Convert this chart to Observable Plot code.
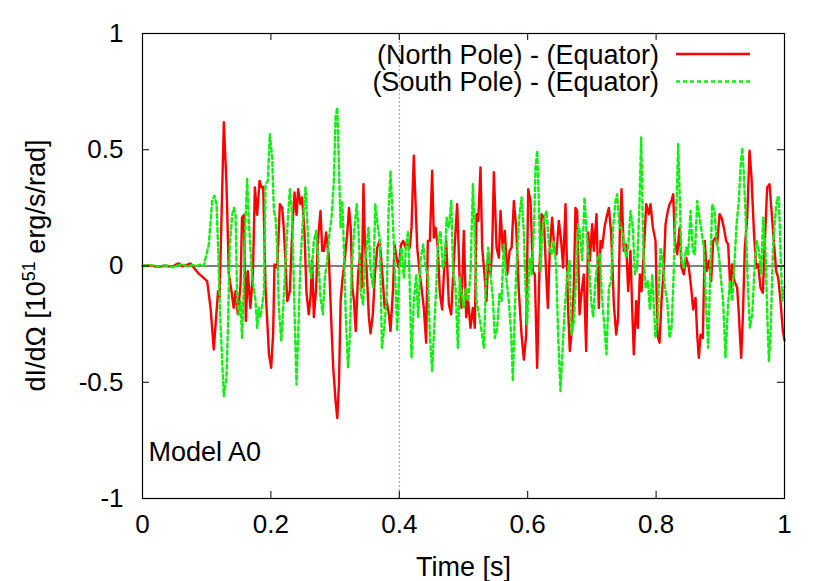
<!DOCTYPE html>
<html>
<head>
<meta charset="utf-8">
<script src="https://cdn.jsdelivr.net/npm/d3@7"></script>
<script src="https://cdn.jsdelivr.net/npm/@observablehq/plot@0.6"></script>
<style>
  body { margin: 0; background: #fff; }
  #chart svg { display: block; }
</style>
</head>
<body>
<div id="chart"></div>
<script>
// ---- data ----
const seriesNames = ["(North Pole) - (Equator)", "(South Pole) - (Equator)"];
const xTicks = [0, 0.2, 0.4, 0.6, 0.8, 1];
const yTicks = [-1, -0.5, 0, 0.5, 1];
const markerTime = 0.4;
const modelLabel = "Model A0";
const xTitle = "Time [s]";

const northT = [0, 0.012, 0.024, 0.036, 0.046, 0.052, 0.057, 0.062, 0.068, 0.0748, 0.080, 0.0877, 0.1007, 0.106, 0.111, 0.115, 0.1177, 0.120, 0.1267, 0.1308, 0.1345, 0.1386, 0.142, 0.145, 0.1485, 0.1527, 0.155, 0.158, 0.161, 0.164, 0.168, 0.172, 0.175, 0.1786, 0.1823, 0.1854,
  0.188, 0.1916, 0.197, 0.2004, 0.2035, 0.2056, 0.2098, 0.214, 0.2176, 0.22, 0.2227, 0.2254, 0.2295, 0.2331, 0.2368, 0.24, 0.2425, 0.2461, 0.2487, 0.2523, 0.2554, 0.259, 0.2616, 0.2643, 0.2669, 0.2705, 0.2731, 0.2773, 0.28, 0.2825, 0.2861, 0.2903, 0.294, 0.2971, 0.3008, 0.3034, 0.306, 0.3086, 0.3112, 0.3149, 0.319, 0.3217, 0.3243, 0.3269, 0.3295, 0.3321, 0.3358, 0.339, 0.3416, 0.3442, 0.3463, 0.3489, 0.3526, 0.3552, 0.3588, 0.362, 0.3656, 0.3694, 0.372, 0.3751, 0.3772, 0.3803, 0.3838, 0.3863,
  0.3904, 0.3925, 0.3956, 0.3993, 0.4029, 0.406, 0.4097, 0.4123, 0.4164, 0.419, 0.4226, 0.4252, 0.4279, 0.432, 0.4346, 0.4382, 0.4418, 0.4444, 0.4476, 0.4512, 0.4538, 0.4564, 0.46, 0.4631, 0.4668, 0.4694, 0.473, 0.4772, 0.4808, 0.485, 0.4901, 0.4938, 0.4969, 0.5005, 0.5042, 0.5073, 0.5109, 0.5145, 0.5177, 0.5203, 0.5229, 0.5265, 0.5291, 0.5327, 0.5358, 0.5385, 0.5421, 0.5447, 0.5473, 0.5515, 0.5551, 0.5577, 0.5613, 0.5644, 0.5681, 0.5718, 0.5749, 0.5785, 0.5821, 0.5863, 0.5904, 0.594, 0.5977, 0.6008, 0.6044,
  0.608, 0.6111, 0.6147, 0.6184, 0.6215, 0.6251, 0.6288, 0.6314, 0.6345, 0.6381, 0.6417, 0.6448, 0.6485, 0.6521, 0.6552, 0.6589, 0.6625, 0.6656, 0.6692, 0.6718, 0.6744, 0.677, 0.6807, 0.6838, 0.6874, 0.6911, 0.6942, 0.6968, 0.7004, 0.703, 0.7072, 0.7108, 0.7134, 0.716, 0.7196, 0.7227, 0.7264, 0.73, 0.7342, 0.7378, 0.7409, 0.7435, 0.7461, 0.7497, 0.7534, 0.7565, 0.7601, 0.7627, 0.7653, 0.769, 0.7716, 0.7747, 0.7773, 0.781, 0.7846, 0.7887, 0.7913, 0.795, 0.7991, 0.8022, 0.8054,
  0.8084, 0.8121, 0.8147, 0.8183, 0.821, 0.824, 0.8266, 0.8293, 0.8329, 0.8365, 0.8396, 0.8432, 0.8469, 0.851, 0.8546, 0.8577, 0.8614, 0.864, 0.8666, 0.8692, 0.8728, 0.8759, 0.8785, 0.8822, 0.8858, 0.8889, 0.8925, 0.8951, 0.8988, 0.9019, 0.9055, 0.9091, 0.9122, 0.9159, 0.9185, 0.9221, 0.9263, 0.9289, 0.9325, 0.9351, 0.9382, 0.9419, 0.9455, 0.9486, 0.9523, 0.9559, 0.959, 0.9626, 0.9663, 0.9694, 0.973, 0.9767, 0.9798, 0.9834, 0.987, 0.9902, 0.9938, 0.9975, 1.0];
const northV = [0, 0.002, -0.003, 0.001, -0.004, 0.006, 0.011, -0.002, 0.004, 0.011, -0.007, -0.033, -0.065, -0.18, -0.359, -0.208, -0.108, -0.137, 0.618, 0.352, -0.036, -0.108, -0.18, -0.108, -0.208, -0.08, 0.208, 0.22, -0.236, -0.022, -0.18, -0.036, 0.338, 0.22, 0.366, 0.338,
  0.34, -0.093, -0.38, -0.438, -0.29, 0.007, -0.007, 0.266, 0.25, 0.165, 0.022, -0.151, -0.108, 0.144, 0.316, 0.22, 0.33, 0.266, 0.295, 0.144, -0.115, -0.208, -0.137, 0.022, -0.22, -0.093, 0.108, 0.237, 0.065, 0.065, 0.144, 0.036, -0.236, -0.438, -0.582, -0.654, -0.51, -0.151, -0.065, 0.022, 0.144, 0.25, 0.165, -0.093, -0.151, -0.28, -0.036, 0.05, -0.093, 0.352, 0.108, -0.007, -0.22, -0.29, -0.208, -0.036, 0.079, 0.108, 0.022, -0.093, -0.18, -0.151, -0.208, -0.28,
  -0.093, 0.093, 0.036, -0.007, 0.093, 0.108, 0.079, 0.108, 0.079, 0.165, 0.474, 0.28, 0.079, -0.036, -0.093, -0.18, -0.33, 0.108, 0.108, 0.41, 0.122, 0.165, 0.079, -0.115, -0.187, -0.036, 0.108, -0.165, -0.208, 0.022, 0.266, -0.036, -0.18, 0.151, -0.22, -0.151, -0.266, -0.18, -0.266, 0.223, 0.194, 0.424, 0.079, -0.036, -0.151, 0.036, -0.036, 0.079, 0.403, 0.079, 0.036, 0.237, 0.065, 0.151, -0.036, 0.065, 0.079, 0.28, 0.165, -0.115, -0.295, -0.403, -0.295, 0.33, 0.28,
  -0.022, -0.036, -0.438, -0.007, 0.223, 0.208, -0.036, -0.18, 0.079, 0.208, 0.065, 0.05, 0.194, 0.108, -0.007, 0.266, -0.151, -0.366, -0.266, -0.093, 0.25, 0.237, -0.208, -0.115, -0.036, -0.366, 0.144, 0.022, 0.18, 0.065, 0.223, -0.18, 0.108, 0.079, 0.165, 0.208, 0.25, 0.144, -0.165, -0.295, -0.22, 0.144, 0.33, 0.065, 0.093, -0.108, 0.065, -0.18, -0.38, -0.151, -0.266, -0.036, -0.108, 0.065, 0.266, 0.223, 0.266, 0.165, 0.108, -0.3, -0.33,
  -0.151, -0.007, 0.18, 0.237, 0.266, 0.28, 0.309, 0.108, 0.05, 0.165, -0.007, -0.036, 0.036, -0.007, -0.093, -0.187, -0.137, -0.295, -0.395, -0.295, -0.31, 0.108, -0.022, 0.022, -0.065, 0.108, 0.122, 0.093, 0.223, 0.208, 0.165, 0.108, 0.093, -0.115, 0.007, -0.065, -0.093, -0.208, -0.395, -0.22, 0.079, 0.208, 0.496, 0.38, 0.151, -0.007, 0.007, -0.093, -0.115, 0.108, 0.338, 0.352, 0.237, 0.108, -0.022, -0.05, -0.151, -0.28, -0.32];

const southT = [0, 0.012, 0.024, 0.036, 0.046, 0.054, 0.062, 0.07, 0.078, 0.085, 0.0903, 0.0955, 0.0996, 0.1033, 0.1085, 0.1121, 0.1153, 0.118, 0.1205, 0.1241, 0.1267, 0.1308, 0.1334, 0.136, 0.1397, 0.1423, 0.145, 0.1475, 0.15, 0.1527, 0.155, 0.158, 0.1604, 0.163, 0.1656, 0.168, 0.1708, 0.1734, 0.176, 0.1786, 0.181,
  0.1838, 0.189, 0.1916, 0.1952, 0.1983, 0.202, 0.2046, 0.2072, 0.2098, 0.2124, 0.2161, 0.2192, 0.2229, 0.2266, 0.2295, 0.2331, 0.2358, 0.2399, 0.2425, 0.2461, 0.2498, 0.2539, 0.2565, 0.2602, 0.2628, 0.2669, 0.2705, 0.2736, 0.2773, 0.2809, 0.284, 0.2876, 0.2913, 0.2944, 0.2981, 0.3007, 0.3034, 0.306, 0.3086, 0.3112, 0.3138, 0.3165, 0.3201, 0.3232, 0.3258, 0.3295, 0.3337, 0.3363, 0.34, 0.3436, 0.3463, 0.3494, 0.352, 0.3557, 0.3594, 0.3625, 0.3661, 0.3698, 0.373, 0.3766, 0.3803, 0.3834,
  0.3863, 0.3904, 0.3941, 0.3967, 0.4003, 0.4034, 0.4071, 0.4107, 0.4138, 0.4164, 0.419, 0.4226, 0.4263, 0.4294, 0.433, 0.4372, 0.4408, 0.4444, 0.4476, 0.4512, 0.4538, 0.4575, 0.4606, 0.4642, 0.4679, 0.471, 0.4737, 0.4772, 0.4809, 0.484, 0.4876, 0.4912, 0.4943, 0.497, 0.5005, 0.5042, 0.5073, 0.5109, 0.5146, 0.5172, 0.5203, 0.524, 0.5275, 0.5317, 0.5353, 0.5385, 0.5421, 0.5457, 0.5488, 0.5525, 0.5561, 0.5592, 0.5628, 0.5665, 0.5706, 0.5743, 0.5769, 0.58, 0.5836, 0.5873, 0.5904, 0.594,
  0.5966, 0.5992, 0.6028, 0.606, 0.6096, 0.6122, 0.6148, 0.6173, 0.62, 0.6225, 0.6262, 0.6293, 0.633, 0.6371, 0.6407, 0.6444, 0.6474, 0.6511, 0.6548, 0.6578, 0.6615, 0.6651, 0.6682, 0.6719, 0.6755, 0.6786, 0.6812, 0.6848, 0.6885, 0.6916, 0.6952, 0.6988, 0.702, 0.7056, 0.7092, 0.7124, 0.716, 0.7196, 0.7227, 0.7264, 0.73, 0.7331, 0.7368, 0.7394, 0.743, 0.7461, 0.7497, 0.7534, 0.7565, 0.7601, 0.7638, 0.7669, 0.7705, 0.7742, 0.7768, 0.78, 0.7836, 0.7872, 0.7903, 0.794,
  0.799, 0.8027, 0.8069, 0.8105, 0.8137, 0.8173, 0.821, 0.824, 0.8266, 0.8293, 0.832, 0.8344, 0.837, 0.8396, 0.8432, 0.8469, 0.85, 0.8536, 0.8572, 0.8604, 0.864, 0.8676, 0.8707, 0.8744, 0.878, 0.8811, 0.8837, 0.8873, 0.891, 0.8941, 0.8977, 0.9013, 0.9044, 0.9081, 0.9118, 0.9149, 0.9185, 0.9222, 0.9253, 0.9289, 0.9315, 0.9341, 0.9367, 0.9393, 0.943, 0.9461, 0.9497, 0.9534, 0.9565, 0.9601, 0.9638, 0.9668, 0.9705, 0.9731, 0.9757, 0.9782, 0.9819, 0.985, 0.9886, 0.9912, 0.9938, 0.9964, 1.0];
const southV = [0, 0.004, -0.002, 0.003, -0.005, 0.002, 0.008, -0.003, 0.005, 0.0, 0.007, 0, 0.05, 0.093, 0.28, 0.302, 0.266, 0.065, -0.18, -0.409, -0.56, -0.48, -0.236, 0.093, 0.22, 0.25, 0.22, -0.151, -0.208, -0.151, -0.31, -0.065, 0.194, 0.374, 0.194, 0.079, -0.05, -0.093, -0.151, -0.266, -0.18,
  -0.22, -0.115, 0.352, 0.366, 0.567, 0.466, 0.237, 0.208, 0.079, -0.18, -0.323, -0.18, 0.022, 0.208, 0.33, 0.22, -0.093, -0.51, -0.295, 0.022, 0.194, 0.338, 0.194, -0.007, -0.05, 0.108, 0.151, 0.036, -0.137, -0.208, -0.05, 0.022, 0.144, 0.208, 0.366, 0.639, 0.682, 0.424, 0.165, 0.28, 0.065, -0.208, -0.438, -0.29, -0.007, 0.144, 0.266, 0.165, -0.115, -0.165, -0.007, 0.093, 0.165, -0.036, -0.093, 0.266, 0.18, 0.108, -0.352, -0.266, -0.137, 0.237,
  0.41, 0.165, -0.079, -0.28, -0.007, 0.079, -0.05, 0.093, 0.151, -0.093, -0.395, -0.151, -0.036, -0.22, 0.022, 0.093, -0.007, -0.036, -0.295, -0.453, -0.295, -0.093, 0.108, 0.151, -0.007, 0.022, 0.208, 0.165, 0.28, -0.036, -0.093, -0.352, -0.05, -0.115, -0.18, -0.093, -0.151, -0.036, 0.352, 0.165, -0.151, -0.208, -0.266, -0.352, -0.036, 0.079, -0.036, -0.137, -0.31, -0.266, -0.115, -0.151, 0.093, -0.05, -0.151, -0.295, -0.496, -0.18, 0.065, 0.223, 0.295, 0.144,
  -0.093, -0.25, 0.036, -0.036, 0.151, 0.424, 0.496, 0.28, -0.022, 0.144, 0.208, 0.237, 0.093, 0.05, 0.108, -0.007, -0.295, -0.538, -0.33, -0.18, -0.036, 0.022, -0.295, -0.236, -0.05, 0.18, 0.144, 0.022, 0.295, 0.144, 0.022, -0.151, -0.22, -0.065, 0.036, 0.05, -0.151, -0.266, -0.38, -0.093, -0.065, 0.165, 0.28, 0.309, 0.165, 0.165, 0.108, 0.036, 0.079, 0.237, 0.165, -0.036, -0.007, 0.28, 0.553, 0.079, -0.093, -0.065, -0.187, -0.036,
  -0.31, -0.208, 0.079, 0.022, -0.093, -0.151, -0.31, -0.266, -0.093, 0.151, 0.28, 0.524, 0.28, 0.022, -0.007, 0.079, 0.05, 0.237, 0.065, 0.05, 0.28, 0.208, 0.151, 0.079, -0.18, -0.352, -0.093, 0.266, 0.237, 0.108, 0.05, -0.065, -0.151, -0.395, -0.18, -0.065, -0.151, 0.022, 0.18, 0.28, 0.424, 0.51, 0.395, 0.223, -0.093, -0.266, -0.208, -0.007, 0.108, 0.065, -0.036, 0.208, 0.065, -0.208, -0.409, -0.295, 0.065, 0.194, 0.295, 0.295, 0.065, -0.151, -0.09];

// ---- build tables ----
const north = northT.map((t, i) => ({t, v: northV[i]}));
const south = southT.map((t, i) => ({t, v: southV[i]}));

const W = 830, H = 581;
const mL = 142, mR = 46, mT = 33, mB = 83;
const FONT = "'Liberation Sans', Arial, Helvetica, sans-serif";
const FS = 27;      // labels, legend
const FST = 26;     // tick labels
const RED = "#ff0000", GREEN = "#10f010", GREEN_DASH = "4,3";
const tickPx = 7;
const dyTick = tickPx * 2 / (H - mT - mB);
const dxTick = tickPx * 1 / (W - mL - mR);
const fmt = d => String(d);

const plot = Plot.plot({
  width: W,
  height: H,
  marginLeft: mL,
  marginRight: mR,
  marginTop: mT,
  marginBottom: mB,
  style: {fontFamily: FONT, fontSize: FST + "px", background: "#fff", color: "#000", overflow: "visible"},
  x: {domain: [0, 1], label: null},
  y: {domain: [-1, 1], label: null},
  marks: [
    Plot.ruleY([0], {stroke: "#000", strokeWidth: 1}),
    Plot.ruleX([markerTime], {stroke: "#8f8fff", strokeWidth: 1, strokeDasharray: "2,2"}),
    Plot.line(north, {x: "t", y: "v", stroke: RED, strokeWidth: 2.4}),
    Plot.line(south, {x: "t", y: "v", stroke: GREEN, strokeWidth: 2.4, strokeDasharray: GREEN_DASH}),
    // inward ticks (gnuplot style) on all four sides
    Plot.ruleX(xTicks, {x: d => d, y1: -1, y2: -1 + dyTick, stroke: "#000"}),
    Plot.ruleX(xTicks, {x: d => d, y1: 1, y2: 1 - dyTick, stroke: "#000"}),
    Plot.ruleY(yTicks, {y: d => d, x1: 0, x2: dxTick, stroke: "#000"}),
    Plot.ruleY(yTicks, {y: d => d, x1: 1, x2: 1 - dxTick, stroke: "#000"}),
    Plot.frame({stroke: "#000", strokeWidth: 1.2}),
    Plot.axisX({ticks: xTicks, tickSize: 0, tickPadding: 16, tickFormat: fmt, label: null, fontSize: FST}),
    Plot.axisY({ticks: yTicks, tickSize: 0, tickPadding: 19, tickFormat: fmt, label: null, fontSize: FST}),
    Plot.text([modelLabel], {frameAnchor: "bottom-left", dx: 6, dy: -46, textAnchor: "start", lineAnchor: "middle", fontSize: FS, fill: "#000"}),
    Plot.text([xTitle], {frameAnchor: "bottom", dy: 69, lineAnchor: "middle", fontSize: FS, fill: "#000"})
  ]
});

document.getElementById("chart").appendChild(plot);

// ---- legend and y-axis title (added to the same SVG) ----
const svg = d3.select(plot);
const xs = plot.scale("x"), ys = plot.scale("y");
const frameRight = xs.apply(1), frameTop = ys.apply(1), frameMidY = (ys.apply(1) + ys.apply(-1)) / 2;

const legend = svg.append("g").attr("font-family", FONT).attr("font-size", FS);
const legendStyles = [
  {color: RED, dash: null},
  {color: GREEN, dash: GREEN_DASH}
];
seriesNames.forEach((name, i) => {
  const cy = frameTop + 21 + i * 27.5;
  legend.append("text")
    .attr("x", frameRight - 125)
    .attr("y", cy)
    .attr("dy", "0.36em")
    .attr("text-anchor", "end")
    .attr("fill", "#000")
    .text(name);
  const ln = legend.append("line")
    .attr("x1", frameRight - 108).attr("x2", frameRight - 34)
    .attr("y1", cy).attr("y2", cy)
    .attr("stroke", legendStyles[i].color)
    .attr("stroke-width", 2.4);
  if (legendStyles[i].dash) ln.attr("stroke-dasharray", legendStyles[i].dash);
});

const yt = svg.append("text")
  .attr("transform", `translate(45,${frameMidY}) rotate(-90)`)
  .attr("text-anchor", "middle")
  .attr("font-family", FONT)
  .attr("font-size", FS)
  .attr("fill", "#000");
yt.append("tspan").text("dI/dΩ [10");
yt.append("tspan").attr("font-size", 18).attr("dy", -10).text("51");
yt.append("tspan").attr("dy", 10).text(" erg/s/rad]");
</script>
</body>
</html>
